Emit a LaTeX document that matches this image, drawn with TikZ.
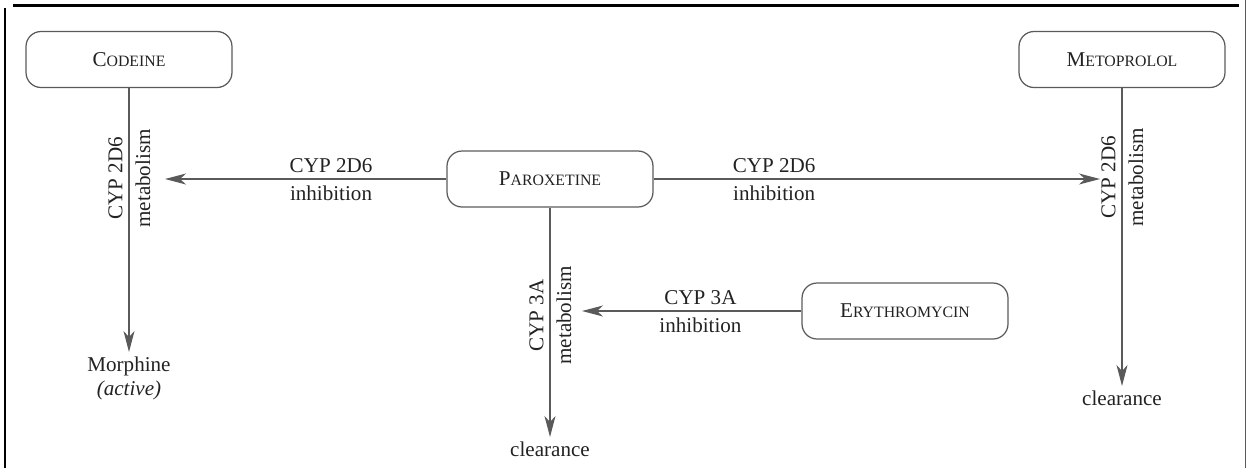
\documentclass[tikz,border=0pt]{standalone}
\usepackage{fontspec}
\setmainfont{Liberation Serif}
\usetikzlibrary{arrows.meta}
\definecolor{trait}{HTML}{5A5A5A}
\definecolor{encre}{HTML}{222222}
\newcommand{\petitescap}[2]{#1{\fontsize{9}{10}\selectfont #2}}

\begin{document}
\begin{tikzpicture}[x=0.02cm, y=-0.02cm, font=\fontsize{12}{14}\selectfont, text=encre]
			\tikzset{medoc/.style={rectangle, rounded corners=0.3cm, draw=trait, line width=0.7pt, minimum width=4.12cm, minimum height=1.12cm}, fleche/.style={draw=trait, line width=0.7pt, -{Stealth[length=0.42cm, width=0.22cm, inset=0.12cm]}}, fin/.style={anchor=north, inner sep=0pt, outer sep=2.5pt}};

			\useasboundingbox (0,0) rectangle (1246,468);

			% cadre
			\draw[line width=1.7pt] (13,5) -- (1239,5);
			\draw[line width=1.1pt] (5,8) -- (5,468);
			\draw[line width=0.5pt, trait] (1245,0) -- (1245,468);

			\node[medoc] (cod)   at ( 129, 59.5) {\petitescap{C}{ODEINE}};
			\node[medoc] (meto)  at (1122, 59.5) {\petitescap{M}{ETOPROLOL}};
			\node[medoc] (parox) at ( 550,  179) {\petitescap{P}{AROXETINE}};
			\node[medoc] (ery)   at ( 905,  311) {\petitescap{E}{RYTHROMYCIN}};

			\node[fin, align=center] (morph) at ( 129, 352) {Morphine\\\textit{(active)}};
			\node[fin] (clr1) at (1122, 386) {clearance};
			\node[fin] (clr2) at ( 550, 437) {clearance};

			\coordinate (codin) at ( 165, 179);
			\coordinate (metin) at (1100, 179);
			\coordinate (parin) at ( 582, 311);

			\draw[fleche] (cod) -- node[pos=0.342, rotate=90, anchor=south] {CYP 2D6} node[pos=0.342, rotate=90, anchor=north] {metabolism} (morph);
			\draw[fleche] (meto) -- node[pos=0.30, rotate=90, anchor=south] {CYP 2D6} node[pos=0.30, rotate=90, anchor=north] {metabolism} (clr1);
			\draw[fleche] (parox) -- node[pos=0.47, rotate=90, anchor=south] {CYP 3A} node[pos=0.47, rotate=90, anchor=north] {metabolism} (clr2);

			\draw[fleche] (parox) -- node[pos=0.41, above] {CYP 2D6} node[pos=0.41, below] {inhibition} (codin);
			\draw[fleche] (parox) -- node[pos=0.27, above] {CYP 2D6} node[pos=0.27, below] {inhibition} (metin);
			\draw[fleche] (ery) -- node[pos=0.46, above] {CYP 3A} node[pos=0.46, below] {inhibition} (parin);

\end{tikzpicture}
\end{document}
